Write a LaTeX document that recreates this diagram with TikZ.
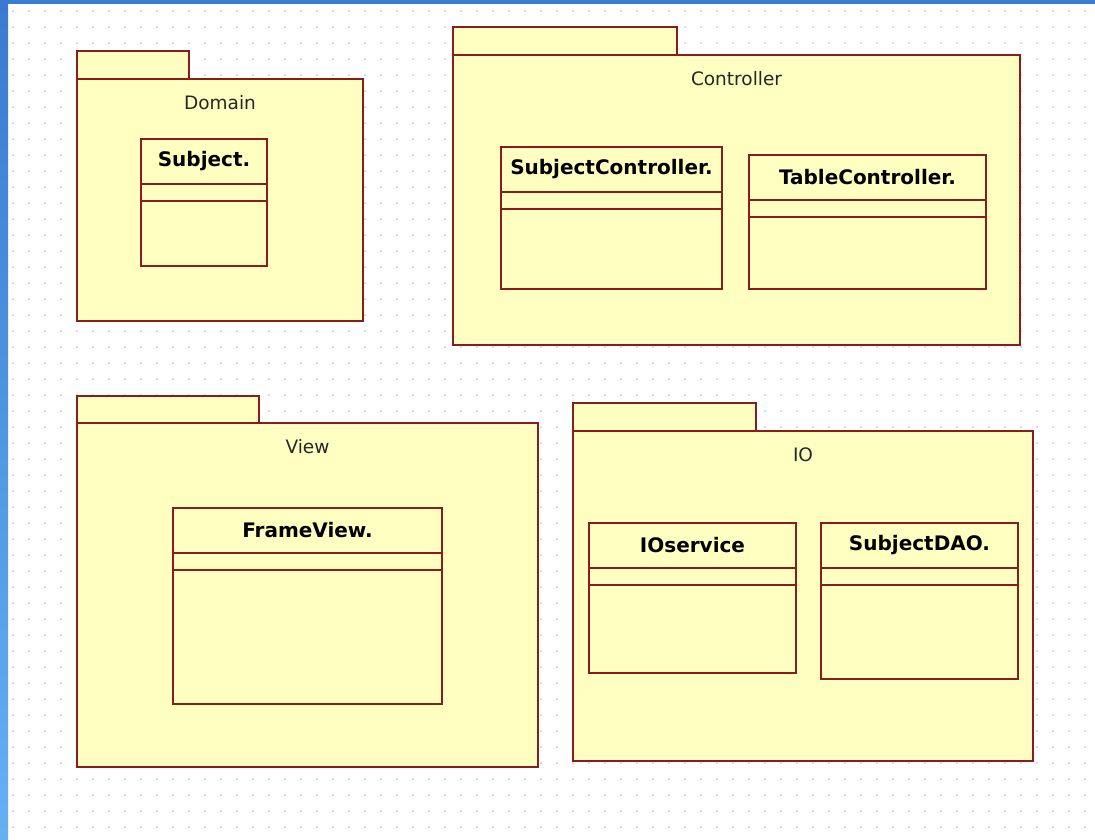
\documentclass[tikz,border=0pt]{standalone}
\usepackage{fontspec}
\setmainfont{DejaVu Sans}
\usetikzlibrary{positioning}
\definecolor{umlred}{RGB}{139,28,28}
\definecolor{umlfill}{RGB}{255,255,194}
\definecolor{griddot}{RGB}{196,196,196}
\definecolor{framedark}{RGB}{58,122,208}
\definecolor{framelight}{RGB}{102,176,242}
\newcommand{\classhead}{45}
\newcommand{\classattr}{62}
\tikzset{
  umlbox/.style={draw=umlred, fill=umlfill, line width=2.2pt, inner sep=0pt, outer sep=0pt, anchor=north west},
  pkgname/.style={font=\fontsize{18.5}{22}\selectfont, text=black!85},
  classname/.style={font=\bfseries\fontsize{20}{24}\selectfont},
  divider/.style={draw=umlred, line width=2.2pt},
}
\newcommand{\umlpackage}[8]{%
  \node[umlbox, minimum width=#4pt, minimum height=#5pt] (#1tab) at (#2,#3) {};
  \node[umlbox, minimum width=#6pt, minimum height=#7pt] (#1) at (#1tab.south west) {};
  \node[pkgname] (#1name) at ([yshift=-24pt]#1.north) {#8};
}
\newcommand{\umlclass}[6]{%
  \node[umlbox, minimum width=#4pt, minimum height=#5pt] (#1) at (#2,#3) {};
  \node[classname] (#1name) at ([yshift=-22pt]#1.north) {#6};
  \draw[divider] ([yshift=-\classhead pt]#1.north west) -- ([yshift=-\classhead pt]#1.north east);
  \draw[divider] ([yshift=-\classattr pt]#1.north west) -- ([yshift=-\classattr pt]#1.north east);
}

\begin{document}
\begin{tikzpicture}[x=1pt, y=-1pt]
    \useasboundingbox (0,0) rectangle (1095,839);
    \fill[white] (0,0) rectangle (1095,839);
    \foreach \gx in {13,29,...,1093}
        \foreach \gy in {11,27,...,835}
            \fill[griddot] (\gx,\gy) circle (1pt);
    \shade[top color=framedark, bottom color=framelight] (0,0) rectangle (8,839);
    \fill[framedark] (0,0) rectangle (1095,4);

    \umlpackage{domain}{77}{51}{112}{28}{286}{242}{Domain}
    \umlclass{subject}{141}{139}{126}{127}{Subject.}

    \umlpackage{controller}{453}{27}{224}{28}{567}{290}{Controller}
    \umlclass{subjectctrl}{501}{147}{221}{142}{SubjectController.}
    \umlclass{tablectrl}{749}{155}{237}{134}{TableController.}

    \umlpackage{view}{77}{396}{182}{27}{461}{344}{View}
    \umlclass{frameview}{173}{508}{269}{196}{FrameView.}

    \umlpackage{io}{573}{403}{183}{28}{460}{330}{IO}
    \umlclass{ioservice}{589}{523}{207}{150}{IOservice}
    \umlclass{subjectdao}{821}{523}{197}{156}{SubjectDAO.}
\end{tikzpicture}
\end{document}
